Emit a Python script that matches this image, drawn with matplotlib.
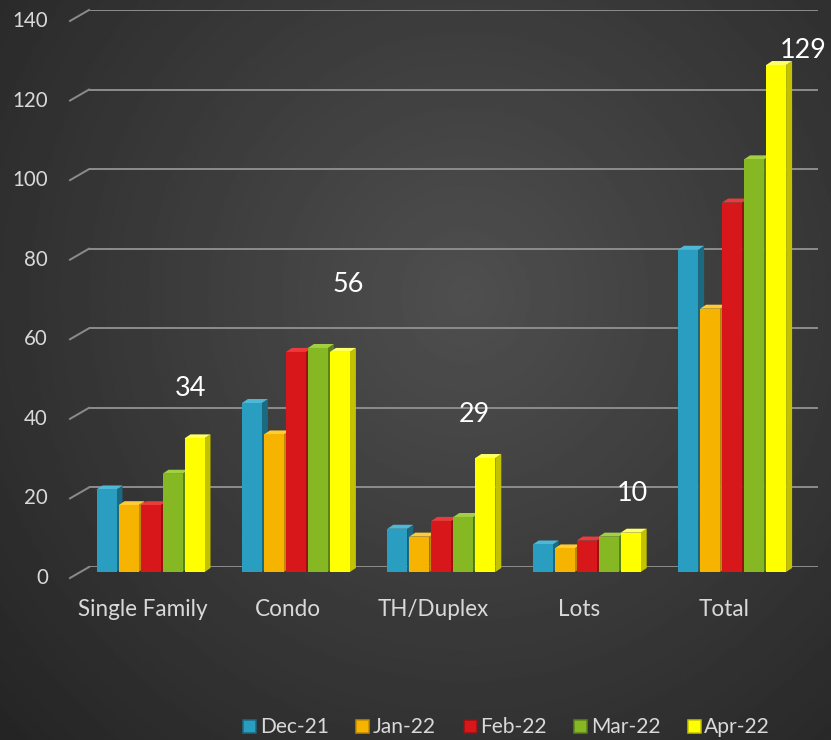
import numpy as np
import matplotlib
matplotlib.use('Agg')
import matplotlib.pyplot as plt
from matplotlib.patches import Polygon
from matplotlib.lines import Line2D

plt.rcParams['font.family'] = ['Lato', 'DejaVu Sans']

categories = ['Single Family', 'Condo', 'TH/Duplex', 'Lots', 'Total']
months = ['Dec-21', 'Jan-22', 'Feb-22', 'Mar-22', 'Apr-22']
dec21 = [21, 43, 11, 7, 82]
jan22 = [17, 35, 9, 6, 67]
feb22 = [17, 56, 13, 8, 94]
mar22 = [25, 57, 14, 9, 105]
apr22 = [34, 56, 29, 10, 129]
series = [dec21, jan22, feb22, mar22, apr22]
y_ticks = [0, 20, 40, 60, 80, 100, 120, 140]

front_c = ['#2a9ec0', '#f6b400', '#d8171b', '#86b823', '#ffff00']
side_c = ['#1b6a82', '#c08a00', '#9c0f12', '#5c8216', '#c2c200']
top_c = ['#4fb8d6', '#ffcc33', '#ee3a3a', '#a2d040', '#ffff66']

# value-label offsets (px) from the Apr-22 bar tops
lab_off = [(-4, 50), (8, 67), (-11, 44), (2, 39), (27, 15)]

W, H = 831, 740
fig = plt.figure(figsize=(W / 72, H / 72), dpi=72)

# dark radial background
bg = fig.add_axes([0, 0, 1, 1])
bg.axis('off')
yy, xx = np.mgrid[0:1:400j, 0:1:450j]
r = np.hypot((xx - 0.56) * 1.15, (yy - 0.40))
shade = np.clip(0.31 - 0.19 * r, 0, 1)
bg.imshow(shade, cmap='gray', vmin=0, vmax=1, extent=[0, 1, 0, 1],
          aspect='auto', origin='upper')
bg.set_xlim(0, 1); bg.set_ylim(0, 1)

# scale: category i sits at 150.5 + 145.4*i px
PXX = 145.4
X0, X1 = (89 - 150.5) / PXX, (818 - 150.5) / PXX
PXY_GRID = 557 / 140
PXY_BAR = 3.93
BAR_ZERO = 572

# back wall gridlines with the slanted front edge
gx = fig.add_axes([89 / W, (H - 567) / H, 729 / W, 557 / H])
gx.set_xlim(X0, X1)
gx.set_ylim(0, 140)
gx.axis('off')
ddx, ddy = 19 / PXX, 11 / PXY_GRID
for g in y_ticks:
    gx.plot([X0, X1], [g, g], color='#8a8a8a', lw=2, solid_capstyle='butt')
    gx.plot([X0, X0 - ddx], [g, g - ddy], color='#8a8a8a', lw=2,
            clip_on=False)
    gx.annotate(str(g), (X0 - ddx, g - ddy), xytext=(-22, 0),
                textcoords='offset points', ha='right', va='center',
                fontsize=20.5, color='#d9d9d9', annotation_clip=False)

# bars
ax = fig.add_axes([89 / W, (H - BAR_ZERO) / H, 729 / W, (BAR_ZERO - 10) / H])
ax.set_xlim(X0, X1)
ax.set_ylim(0, (BAR_ZERO - 10) / PXY_BAR)
ax.axis('off')

step = 22 / PXX
bw = 20 / PXX
dx, dy = 6 / PXX, 4 / PXY_BAR
xs = np.arange(len(categories))
for j, vals in enumerate(series):
    xc = xs + (j - 2) * step
    z = 3 + j * 0.1
    bars = ax.bar(xc, vals, bw, color=front_c[j], zorder=z + 0.02,
                  linewidth=0)
    for b in bars:
        x0, h = b.get_x(), b.get_height()
        x1 = x0 + b.get_width()
        ax.add_patch(Polygon([(x1, 0), (x1 + dx, dy), (x1 + dx, h + dy), (x1, h)],
                             closed=True, color=side_c[j], lw=0, zorder=z))
        ax.add_patch(Polygon([(x0, h), (x1, h), (x1 + dx, h + dy), (x0 + dx, h + dy)],
                             closed=True, color=top_c[j], lw=0, zorder=z + 0.01))

# data labels on the latest month
for i, v in enumerate(apr22):
    ax.annotate(f'{v}', (xs[i] + 2 * step, v), xytext=lab_off[i],
                textcoords='offset points', ha='center', va='center',
                fontsize=27, color='white', annotation_clip=False, zorder=10)

# category labels along the front edge
for i, c in enumerate(categories):
    ax.annotate(c, (xs[i], 0), xytext=(-8, -37), textcoords='offset points',
                ha='center', va='center', fontsize=22.5, color='#d9d9d9',
                annotation_clip=False)

handles = [Line2D([], [], ls='', marker='s', markersize=13,
                  markerfacecolor=front_c[j], markeredgecolor=side_c[j],
                  markeredgewidth=1.5) for j in range(len(months))]
fig.legend(handles, months, loc='center', bbox_to_anchor=(506 / W, 1 - 727 / H),
           ncol=5, frameon=False, fontsize=21, labelcolor='#d9d9d9',
           handletextpad=0.15, columnspacing=1.25, handlelength=0.7)

fig.savefig('out.png', dpi=72)
